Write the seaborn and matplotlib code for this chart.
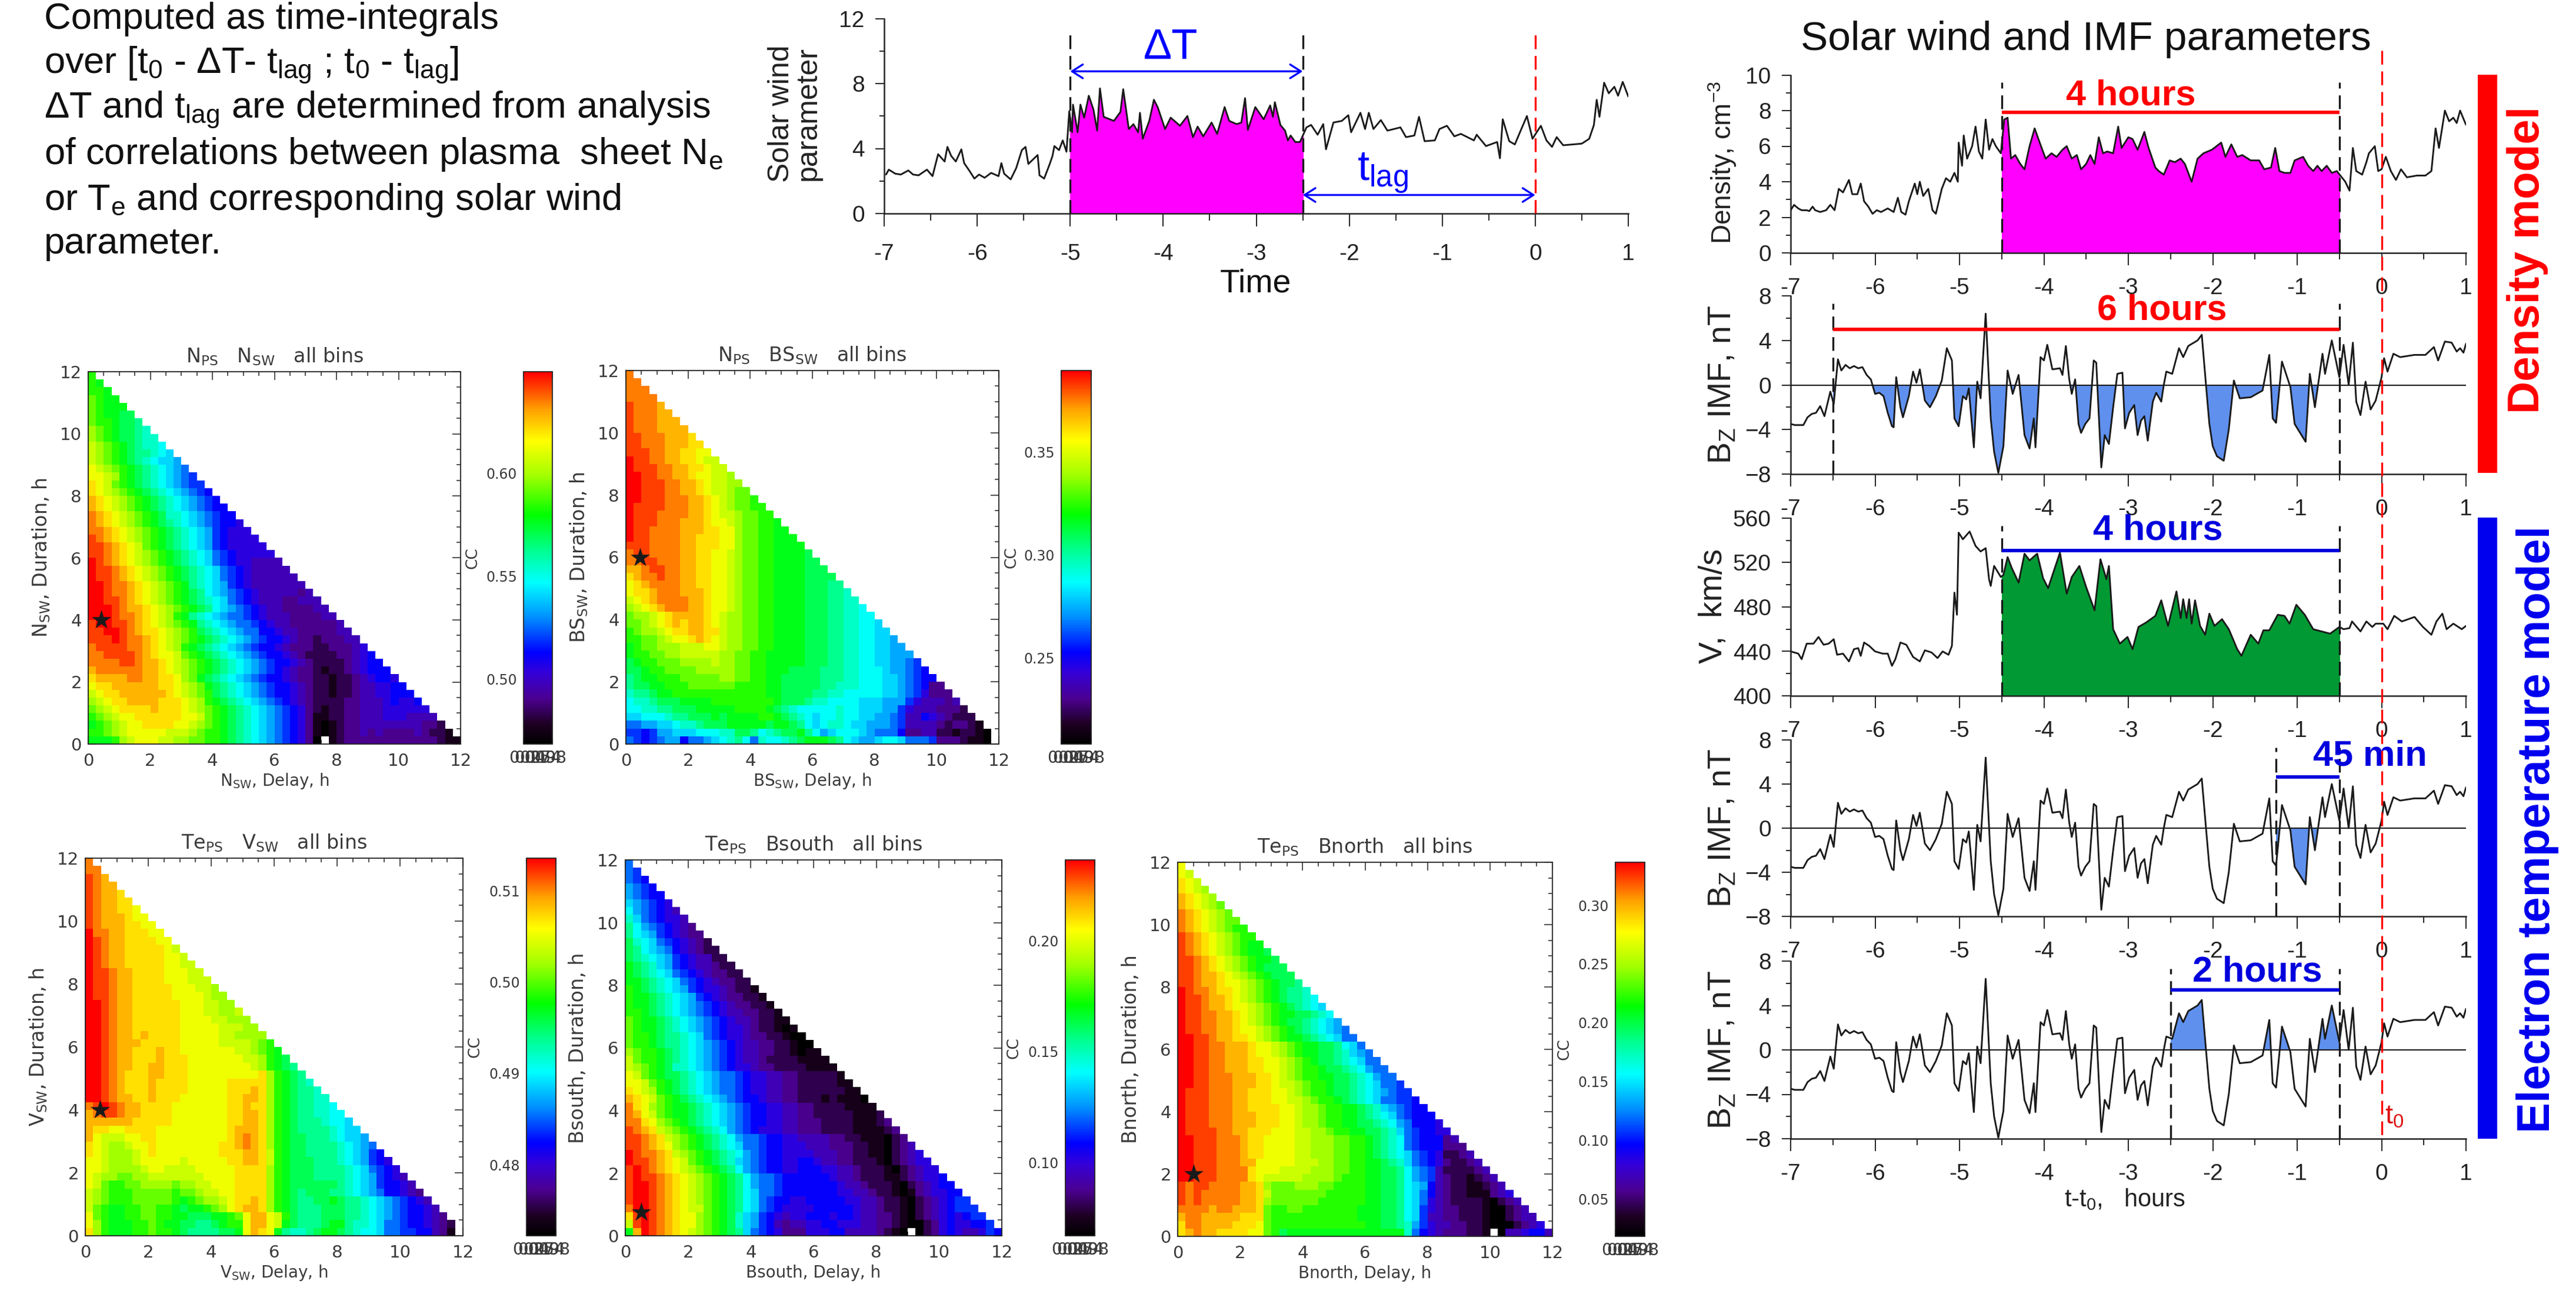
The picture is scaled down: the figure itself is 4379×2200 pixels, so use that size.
import numpy as np
import pandas as pd
import matplotlib
matplotlib.use("Agg")
import matplotlib.pyplot as plt
import seaborn as sns
from matplotlib.colors import LinearSegmentedColormap
from matplotlib.lines import Line2D
from matplotlib.patches import Rectangle
from matplotlib.ticker import MultipleLocator

W, H = 4379, 2200

# Solar wind series (hours before t0, value)
top_t = [-6.98,-6.95,-6.88,-6.82,-6.74,-6.69,-6.63,-6.54,-6.48,-6.42,-6.35,-6.32,-6.28,-6.23,-6.17,-6.14,-6.08,-6.03,-5.98,-5.92,-5.85,-5.77,-5.74,-5.71,-5.64,-5.58,-5.55,-5.52,-5.48,-5.45,-5.35,-5.33,-5.28,-5.22,-5.19,-5.17,-5.12,-5.08,-5.04,-5.01,-4.98,-4.97,-4.92,-4.89,-4.85,-4.80,-4.75,-4.71,-4.68,-4.64,-4.53,-4.46,-4.43,-4.37,-4.32,-4.27,-4.25,-4.22,-4.15,-4.10,-4.06,-3.98,-3.92,-3.82,-3.74,-3.68,-3.63,-3.57,-3.48,-3.42,-3.34,-3.29,-3.21,-3.16,-3.12,-3.09,-3.01,-2.92,-2.85,-2.82,-2.80,-2.74,-2.69,-2.66,-2.63,-2.58,-2.53,-2.46,-2.41,-2.34,-2.28,-2.25,-2.17,-2.08,-2.01,-1.98,-1.88,-1.83,-1.79,-1.74,-1.66,-1.59,-1.45,-1.39,-1.30,-1.25,-1.19,-1.08,-1.03,-0.95,-0.87,-0.80,-0.66,-0.63,-0.53,-0.41,-0.38,-0.35,-0.28,-0.22,-0.15,-0.09,-0.03,0.06,0.12,0.18,0.23,0.30,0.50,0.58,0.63,0.66,0.69,0.74,0.79,0.85,0.89,0.94,1.00]
top_v = [2.4,2.7,2.45,2.4,2.65,2.4,2.35,2.7,2.3,3.65,3.2,4.1,3.55,3.2,3.95,3.1,2.6,2.15,2.4,2.2,2.5,2.3,3.1,2.45,2.1,2.8,3.35,3.9,4.1,3.05,3.6,2.35,2.15,3.05,3.55,4.15,3.9,4.5,3.8,6.3,5.0,6.7,5.0,6.7,5.9,7.25,6.4,5.1,7.7,5.95,5.7,6.25,7.65,5.2,5.5,5.0,6.2,4.6,5.7,7.0,6.55,5.2,5.9,5.4,6.0,4.7,5.35,4.75,5.6,4.9,6.55,5.7,5.5,5.6,7.1,5.15,6.55,5.8,6.65,5.95,6.85,5.45,5.1,4.5,4.8,4.4,4.4,5.3,5.45,4.85,5.5,3.95,5.6,5.7,6.05,5.0,6.2,5.2,6.2,5.2,5.75,5.1,5.3,4.7,4.8,5.95,4.45,4.5,5.2,5.4,4.75,4.9,4.5,4.85,4.15,4.4,3.4,5.8,4.45,4.25,5.2,6.0,4.6,5.4,4.5,4.1,4.7,4.2,4.3,4.6,5.45,7.0,5.95,8.05,7.4,7.8,7.25,8.1,7.2]

dens_t = [-7.00,-6.96,-6.91,-6.87,-6.81,-6.78,-6.74,-6.71,-6.65,-6.58,-6.53,-6.48,-6.43,-6.38,-6.31,-6.27,-6.21,-6.17,-6.13,-6.08,-6.03,-5.98,-5.93,-5.85,-5.78,-5.73,-5.69,-5.64,-5.60,-5.53,-5.50,-5.47,-5.43,-5.37,-5.32,-5.28,-5.21,-5.16,-5.11,-5.06,-5.02,-5.01,-4.97,-4.95,-4.91,-4.85,-4.81,-4.77,-4.73,-4.69,-4.65,-4.61,-4.57,-4.51,-4.47,-4.43,-4.39,-4.34,-4.28,-4.23,-4.17,-4.11,-4.05,-3.98,-3.91,-3.85,-3.78,-3.73,-3.67,-3.61,-3.56,-3.50,-3.45,-3.40,-3.35,-3.30,-3.25,-3.18,-3.12,-3.08,-3.00,-2.95,-2.89,-2.81,-2.76,-2.68,-2.64,-2.58,-2.51,-2.45,-2.38,-2.33,-2.25,-2.18,-2.11,-2.01,-1.90,-1.85,-1.78,-1.71,-1.65,-1.55,-1.45,-1.39,-1.31,-1.26,-1.21,-1.15,-1.08,-1.03,-0.93,-0.87,-0.81,-0.76,-0.71,-0.65,-0.59,-0.53,-0.48,-0.43,-0.38,-0.34,-0.30,-0.23,-0.18,-0.15,-0.08,-0.04,0.00,0.05,0.11,0.17,0.23,0.30,0.42,0.52,0.59,0.64,0.68,0.75,0.80,0.85,0.89,0.93,1.00]
dens_v = [2.4,2.7,2.5,2.4,2.4,2.35,2.6,2.4,2.3,2.4,2.7,2.4,3.6,3.4,4.1,3.3,3.3,3.9,2.9,2.6,2.2,2.4,2.3,2.5,2.3,3.1,2.3,2.15,2.9,3.9,3.3,4.0,3.2,3.6,2.4,2.2,3.6,4.2,4.0,4.5,4.0,6.2,4.9,6.6,5.3,6.0,7.1,5.7,5.3,7.5,5.8,6.4,6.0,5.6,7.5,7.6,5.3,5.5,5.0,4.7,6.0,7.0,6.2,5.3,5.6,5.4,5.8,6.0,5.3,5.5,4.7,5.0,5.5,5.0,6.5,5.6,5.7,5.6,7.1,5.9,6.5,6.4,5.8,6.8,5.9,4.8,4.6,4.4,5.2,5.1,5.3,5.0,4.0,5.3,5.6,5.8,6.2,5.4,6.1,5.4,5.5,5.2,5.2,4.7,4.8,5.9,4.6,4.5,4.5,5.2,5.4,4.9,4.6,4.9,4.6,4.9,4.5,4.6,4.3,4.0,3.5,5.9,4.6,4.4,5.1,5.6,6.0,4.6,4.7,5.4,4.6,4.1,4.7,4.25,4.35,4.35,4.6,7.0,5.9,8.0,7.4,7.6,7.3,8.0,7.2]

bz_t = [-7.00,-6.95,-6.90,-6.85,-6.80,-6.75,-6.70,-6.65,-6.60,-6.53,-6.49,-6.44,-6.40,-6.35,-6.30,-6.25,-6.20,-6.15,-6.10,-6.05,-6.00,-5.95,-5.90,-5.85,-5.80,-5.78,-5.75,-5.70,-5.67,-5.60,-5.55,-5.51,-5.47,-5.41,-5.35,-5.28,-5.21,-5.15,-5.09,-5.06,-5.01,-4.96,-4.92,-4.89,-4.83,-4.79,-4.75,-4.69,-4.63,-4.59,-4.54,-4.48,-4.43,-4.37,-4.30,-4.23,-4.17,-4.12,-4.10,-4.04,-4.00,-3.96,-3.90,-3.81,-3.78,-3.74,-3.70,-3.67,-3.63,-3.59,-3.56,-3.51,-3.46,-3.41,-3.38,-3.32,-3.28,-3.23,-3.18,-3.13,-3.07,-3.04,-2.99,-2.93,-2.89,-2.85,-2.81,-2.77,-2.71,-2.67,-2.61,-2.58,-2.55,-2.48,-2.40,-2.35,-2.29,-2.18,-2.13,-2.08,-2.04,-2.00,-1.95,-1.87,-1.81,-1.75,-1.68,-1.55,-1.41,-1.33,-1.29,-1.25,-1.18,-1.08,-1.03,-0.90,-0.85,-0.79,-0.70,-0.67,-0.59,-0.50,-0.45,-0.39,-0.34,-0.30,-0.25,-0.19,-0.13,-0.07,0.00,0.03,0.07,0.14,0.22,0.39,0.52,0.62,0.67,0.75,0.83,0.89,0.93,0.97,1.00]
bz_v = [-3.5,-3.6,-3.6,-3.6,-2.9,-2.6,-2.5,-1.9,-2.8,-0.6,-1.7,2.3,1.3,1.8,1.5,1.7,1.5,1.6,0.9,0.5,-0.8,-0.7,-1.0,-2.5,-3.7,-3.8,0.7,-2.0,-2.9,-1.0,1.2,0.2,1.4,-1.4,-2.0,-1.0,0.4,3.3,2.2,-3.0,-3.7,-1.0,-1.3,-0.3,-5.6,0.3,-1.2,6.4,-3.0,-6.0,-7.9,-5.5,1.3,-0.8,0.9,-4.5,-5.7,-3.0,-5.6,2.5,2.2,3.6,1.4,1.5,0.9,3.5,0.5,-0.8,0.5,-3.5,-4.3,-3.5,-3.0,2.2,2.0,-7.4,-4.5,-5.3,-2.0,1.0,1.1,-3.9,-2.5,-1.8,-4.5,-3.2,-2.8,-5.0,-1.5,-0.7,-1.5,0.0,1.2,1.0,3.3,2.5,3.5,4.0,4.5,0.0,-3.5,-5.5,-6.4,-6.8,-4.0,0.4,-1.2,-1.1,-0.5,2.7,-3.0,-3.4,2.1,-0.2,-3.5,-5.1,1.0,-2.0,2.8,1.0,4.0,0.7,3.6,0.0,3.8,-1.5,-2.7,0.3,-2.2,-1.4,0.7,2.4,1.2,2.8,2.5,2.7,2.7,3.4,2.2,3.9,3.8,3.0,3.3,2.9,3.7]

vel_t = [-7.00,-6.91,-6.87,-6.81,-6.73,-6.67,-6.61,-6.55,-6.49,-6.45,-6.38,-6.31,-6.25,-6.20,-6.17,-6.13,-6.07,-6.00,-5.91,-5.85,-5.80,-5.76,-5.70,-5.63,-5.55,-5.47,-5.41,-5.33,-5.26,-5.20,-5.13,-5.09,-5.06,-5.03,-5.01,-4.96,-4.88,-4.81,-4.75,-4.69,-4.65,-4.63,-4.59,-4.51,-4.48,-4.43,-4.38,-4.30,-4.23,-4.17,-4.08,-4.01,-3.95,-3.81,-3.73,-3.67,-3.58,-3.50,-3.40,-3.33,-3.26,-3.23,-3.18,-3.10,-3.01,-2.95,-2.88,-2.79,-2.68,-2.61,-2.53,-2.43,-2.38,-2.35,-2.31,-2.28,-2.25,-2.21,-2.15,-2.09,-2.04,-1.98,-1.89,-1.81,-1.71,-1.66,-1.55,-1.46,-1.40,-1.33,-1.23,-1.15,-1.09,-1.01,-0.91,-0.81,-0.71,-0.61,-0.50,-0.45,-0.38,-0.35,-0.25,-0.18,-0.11,-0.07,0.02,0.07,0.15,0.24,0.39,0.49,0.59,0.65,0.72,0.77,0.85,0.95,1.00]
vel_v = [440,438,433,447,447,453,446,447,451,437,438,431,442,443,436,448,445,440,438,438,427,433,448,446,435,431,441,439,434,440,437,445,493,473,547,541,548,535,530,533,505,499,517,507,509,525,515,502,528,522,528,506,497,529,492,507,517,498,477,523,505,517,460,447,453,442,462,466,472,486,463,494,470,487,470,487,465,486,463,455,474,463,469,460,442,436,455,447,459,459,473,472,465,482,473,460,458,456,462,460,461,467,458,467,462,465,465,460,472,467,471,462,455,467,474,460,465,460,463]

# Correlation maps: one letter per 15 min cell, a = lowest of the colour bar, z = highest, . = no data
# Rows run from duration 11.75 h down to 0 h, groups of four cells are one hour of delay
levels = "abcdefghijklmnopqrstuvwxyz"
nsw_rows = ["q","qp","qqp","rqpp","rqpp p","rqpp oo","rqqp oon","srqp oonm","srqp oonm m","tsrq ponm ml","tsrq ponn mlk","tsrq ponm lkkj",
    "utsr qpon mlkj i","uuts qpon mlkj ih","vutr qpon mlkj ihh","vuts rqpo nmlk jihg","wvut srqp onml kjih g","wvut srqp onml kjih gg",
    "xwvu tsrq pomm lkji hgg","xwvu tsrq ponm lkji hggf","xxwv utsr qpon mlkj hgff f","yxwv utsr qpon mlkj hgff ff","yyxw vutr qpon mlkj hgff fff",
    "yyxw vuts rqpo nmlk ihgf ffff","zyxw vuts rqpo nmlk ihgf feee e","zyyx wvut srqp onml kihg feee ee","zyyx wvut srqp onml kihg feee eee",
    "zzyx xwvu tsrq pnml kjhg feee eeee","zzyx xwvu tsrq ponl kjih gfee eeed e","zzyy xwvu tsrq ponm lkih gfee edde ee","zzzy xwwv utsr qpon lkji hgfe eddd dee",
    "zzzy xxwv utsq pnml kjii hgfe eedd ddee","yzzy yxwv utsr qpnm lkji ihgf eedd dddd e","yyzz yxwv vuts rqon mlkj iigg feed dddd ee",
    "yyyz yxxw vuts rqpo nmlk jihg gfed dcdd dee","xyyy yxxw vuts qpon mlkj ihgg fedd dccd ddef","xxyy yyxw vuut rqpo nmlk jihg gfed cccc ddef g",
    "xxxx yyxw wvut srqp onml kjih ggfe dccc cdef gg","wxxx xxxw wvut srqp onml kjih gfed dcbc cdef ggg","vwww wxxw wvvu srpo nmlk jihg gfed dccb ccde fggf",
    "uvvw wwww wvvu tsrp onml kjih ggfe dccb ccde effg g","tuvv wwww wwvu tsrq onml kjih ggfe dccb ccde effg gg","stuv vwww wvvv utsq ponm lkji hgfe dccc cdde eefg ffg",
    "rstu vvvv wvvv utsr qpon mlkj ihgf dcbc cdde eeff ffff","qrst uuvv vvvv uutr qpon mlkj ihgf dbbc cdde eeff feee e","pqrs tuuv vvvu utsr qpon mlkj ihgf dbab cdde eeee eeed dc",
    "qqrs tuuu uutt tsrq qpon mlkj ihgf dbab cdde dedd dded ccb","pppq stuu utts srrq qpon mlkj ihgf da.b cddd dddd dddd dcbb"]
bsw_rows = ["x","xx","xxx","xxxx","yxxx w","yxxx ww","yxxx www","yxxx wwww","yyxx xwww v","yyxx xwww vv","yyyx xwwv vuu","zyyx xwwv vutt",
    "zyyy xxww vvut t","zzyy xxww vuut ts","zzyy yxxw wvut tss","zzyy yxxw wvut tsrr","zzyy yxxx wwvu tsrr q","zyyy yxxx wwvu tsrr qq",
    "zyyy xxxx wwvu ttsr rqq","zyyy xxxw wwvu utsr rqqp","zyyx xxxw wwvv uusr rqqp p","zyyx xxxw wvvv uusr rqqp pp","yyyx xxxw wvvv uusr rqqp ppp",
    "xyyx xxxw wvvu utsr rqqp pppo","xxyy xxxw wvvu utsr rqqp pppo o","wwxy yxxw wvvu utsr rqqp pppo oo","vwxx yxxw wvvu utsr rqqp pppo ooo",
    "uvwx xxxw wvvu utsr rqqp pppo oonn","uvvw xxxw wwvu utsr rqqp pppo oonn m","tuvw xxxx wwvu utsr rqqp pppo oonn mm","stuv wxxx wwvu utsr rqqp pppo oonn mml",
    "rsst uvww wwvu tssr rqqp pppo oonn mmll","rrst uvwv wwvu tssr rqqp pppo oonn mmll k","qrss tuvv wwvv tssr rqqp pppo oonn mmll kk",
    "qqrr stuu vwvu tssr rqqp pppo oonn mmll kkj","pqrr ssst ttuu tssr rqqp pppo oonn mmll kkjj","pqqr rsst tttt ssrr qqpp pppo oonn mmll kkjj j",
    "opqq rrrs ssst ssrr qqpp pppo oonn mmll kkjj ih","oopq qrrr rsss ssrr qqpp pooo onnn mmll lkjj ihg","nopp qqqr rrrr ssrr qqpp oooo onnn mmll lkkj ihgg",
    "noop pqqq rrrr rrqq qqpp oooo onnm mmll lkkj ihgd d","mnno ppqq qqqq qqqq qqpp oooo nnmm llll lkkj ihfd dd","lmmn ooop pppq qqqq qqqp ooon mmll llkk kjjj hfee ede",
    "llmm nnoo oppp ppqq qqpo nmll lllm llkk kjjh feee dddc","kkll lmnn ooop oppp pqqp onml kllm llkk jjih eegf edcc c","iijj kklm mnoo oppp ppop ponl klmm lkkj jjih eeee dcdd cb",
    "hhgh jjkk klll mmoo nlmn oopn ljkl llkj iiig ddee ccbc cba","ihgh ijjg iijk lmnl imll mnop ppon lkjj kllk iiih dddc bba"]
vsw_rows = ["x","xx","yxw","yxww","yxww v","yxww vv","yxww vvu","yxww wvuu","yxww wvvu u","zxxw wvvv uu","zyxw wvvv vuu","zyxw wvvv vvut",
    "zyxw wvvv vvuu t","zyxw wvvv vvuu tt","zyyx wwvv vvuu utt","zyyx wwvv vvuu uttt","zyyx wwvv vvvu uutt s","zyyx wwvv vvvu uuut ss",
    "zzyx wwvv vvvv uuut tss","zzyx wwvv vvvv uuut tsst","zzyx wwvv vvvv uuuu ttss s","zzyx wwvv vvvv uuuu uttt ss","zzyx wwvw vvvv uuuu utts sss",
    "zzyx wwwv vvvv uuuu uttt tsrq","zzyx wwvv vwvv uuuu uuut tsrq p","zzyx wwvv vwvv vuuu uuuu ttsq po","zzyx wwvv wwvv vuuu uuuu utsq pon",
    "zzyx wvvv wwvv vuuu uuuu uuvs qpon","zzyx wvvv wvvv vuuu uuvv vvvs qpon m","zzyx wvvv wvvv vuuu uuvv vwvs qpon nm","zzyx wwvv wvvv uuuu uuvv wwvs qpon nmm",
    "xyzy xwwv vvvu uuuu uuvv wvvs qpon nmml","wxyy xwwv vvvu uuuu uuvv wwvs qpon nmml l","wwww wwvv vvvu uuuu uuvv wwvs qpon nnml lk",
    "wvvu uvvv vuuu uuuu uuvw wwvs qpon nnnm lkk","wutt tuuv vuuu uuuu uuvw xwvs qpoo nnnm lkkj","vuts stuu vuuu uuuu uvvw xwvs qpoo nnnn mlkj i",
    "vuts sstu vuuu uuuu uvvv wwvt qpoo nnnn mlkj hg","uuts sstu uuuu tuuu uuvv wwvt qpoo onnn mlkj hgf","uuts ssst uutt ttuu uuuv vvvs qpoo onnn nmlk ihgf",
    "utss rrss tttt tttu uuuv vvvs qpoo onnn nmlk jhgf e","utrq qrrs sssr sstt uuuv vvvs qpoo oooo nmlk jhgg fe","tsrq qqrr rrrq rrst tuuv vvvs qpon ooon nmlk jigg fed",
    "tsrq qqrr rrrq pqrs stuv vwvs qpon noop onnm lkji hgfe","trqp pqqr rqqp oppq rsuv wwvs qpon nnoo onnm lkji hggf e","urqp pqqr rqqp pooo ppqr uwwu tqon nnoo onnm lkji hggf ed",
    "usqp ppqq rqpp oonn opqq uwwu tpon nnop pnmm lkii hggf edc","vsqp ppqq rqqp onnn noop uwvu pnmm nopp onml lkii hhgg edb"]
bso_rows = ["i","ih","ihg","jihg","jihg g","kjih gf","ljih gfe","mkih gffe","nlji hgfe d","nlkj hgfe dd","omlk ihgf edc","onlk jigf edcc",
    "onml kjhg feec c","ponm kjhg feed cc","ponm lkih gfed dcc","ppon mlki hgfe ddcc","qpon mlkj hgff edcc b","qppo nmlk jhgf eddc cb",
    "qppo nmlk jihg fedd ccb","qqpo nmlk jihg feed dccb","rqpp onml kjih gfee dccb b","rqpp onml kjih gffe dccb ab","rqqp onnm lkih gffe ddcc baa",
    "rqqp onnm lkji hgfe eddc cbaa","srqq ponm lkji hgfe eddc cbab b","trqq ponm lkji hgfe edcc ccbb bb","tsrq pomm lkji hgff eddc cccb bbb",
    "utrq poon mlkj iihg ffee ddcc cccb","uutr qpon mlkj iihg ffee ddcc cccb b","vuts qpon mlkj iihg ffee ddcc cccc bb","wvut rqpo nmlk jihg gfee ddcc cbcb bba",
    "xvus rqpp onml kjih ggff eedd cccc bbbb","xwut rqpp onml kjih ggff eedd cccc cbbb c","xxvu srqp onml kjih ggff eedd dccc cbbb cd",
    "yxwv tsrq ponm ljih gfff eedd dccc cbbb bcd","yyxw vtsr qpon mlji ihgg ffee eedd ccbb bacd","yyxw vusr qpon mlki ihgg fffe eedd dccb bacd e",
    "zyxx wvts rqpo nmlj ihgg ffff eeed dccb bacd ef","zyyx wvut rqpo nmkj ihgg ffgg feed dccc bacd eff","yzyx wvut srqp onlj ihgg ffgg gffe edcc cbac deff",
    "yzyy xwvu tsrq ponl jiih gggg ggfe edcc cbbc deff g","yzzy xwvu tsrq ponl jiih gggg gggf eedc ccba cdef gg","yzzy xwvu tsrq ponl kiih gggg gggf feed ccba bdef fgg",
    "yzzy xwvu tsrq ponl kihg gffg gggg ffee dccb acde fghh","xzzy xwvu ttrq ponl kihg ffff gggg gfee dccb acde fghh h","vyzy xwvu usrq pomk jhgf effg ggfg gfee ddcb acde fgfg hh",
    "tyzy xwvu usrq pomk jhge deef fggf ffee ddcb aacd fgff ggh","pwzy xwvu tsrq ponk ihgf dddf ffgg eeee dcba .acd fgfe efhg"]
bno_rows = ["u","ut","vut","vuts","wvut s","wvut sr","xwvu tsr","xwvu tsrr","xwvu tsrq q","yxwv utsr qq","yxwv utsr qpp","yxwv utsr qppo",
    "yyxw vuts rqpp o","yyxw vuts rqpo oo","yyxw wvut srqp ooo","yyxw wvuu tsrq poon","zyxx wvvu tsrq ponn m","zyyx wwvu tsrq ponn ml",
    "zyyx wwvu utsr qpon mlk","zyyx xwwv utsr qppo onml","zyyx xwwv utsr qpoo nmlk j","zyyx xwwv uuts rqpo nmlk ji","zzyy xwwv vuts rqpp onml kii",
    "zzyy xxww wvuu tsrq ppoo nlki","zzyy xxww wvuu tsrq ppoo nmkj i","zzyy xxww wvvu utsr qpoo nmlk ii","zzyy xxww wvvu utsr qqpo onml jii",
    "zzyy xxxw wwvv utsr qqpp oonm ljii","zzyy xxxw wwvv utts rqqp oonm lkii h","zyyy xxxw wvvv uuts rqqp oonm lkji hh","zyyy xxxw wvvv uutt srqq ponm lkii hhg",
    "zyyy xxxw wvvv vuut ssrq qppo nmkj ihgg","zyyy xxxw wwvv vuut ssrq qppo nmlk ihgg g","zyyy xxxw wwvv vuut ssrq qppo onml jigg gf",
    "zyyy yxxw wvvv uuut tssr qqpp oonm kihg gff","zzyy yxxx wvvu uuut tsss rrqq ponm lihg ggde","zzyy yxxx wvvu uuut tsss rrqq ponm lihg ggdd d",
    "zzyy yxxx wvvu uuut tsss rrqq ponm lkih gfcc de","zzyy yxxx wwuu uuut ttss rrqq ppon mkih gfdc cde","zzyy yxxx xvuu uttt tsss rrqq ppoo nlji hecc ccde",
    "zzyy yxxx xvut tttt ssss rqqq ppoo nlji hedc cbcd e","yxyy xxxx wwvs rrrs ssrr qqqq ppoo nlkj gedc cbbc de","yxyx xxxx wwvt rrrr rrrq qqqq ppoo nlki gedc cbbb def",
    "yxyx xxxx wwvs rrrr rrqq qqqq ppoo nlki fedc cccb acde","xxxx wxxw wwvr qqrr qqqq qqqp ppoo nlkh fedd cccb aacd e","wxxw wwww vvvr qqqq qqqq qqqp ppoo nlkh eedd cccb aacd ee",
    "vxxw wwwv vvur qqqq qqqq qqqq ppoo nmjh feed dccb aaac def","vwxw wvvv vuur qopp pppp pppp pppp pmig fedd dccb .aee fgge"]

cc_limits = [(0.4683, 0.6494), (0.208, 0.3895), (0.4722, 0.5136), (0.067, 0.2364), (0.018, 0.3366)]
cc_ticks = [[0.50, 0.55, 0.60], [0.25, 0.30, 0.35], [0.48, 0.49, 0.50, 0.51], [0.10, 0.15, 0.20], [0.05, 0.10, 0.15, 0.20, 0.25, 0.30]]
stars = [(0.42, 4.0), (0.45, 6.0), (0.47, 4.0), (0.5, 0.75), (0.5, 2.0)]
hour_ticks = [0, 2, 4, 6, 8, 10, 12]
cbar_junk = ["0.00", "0.25", "0.49", "0.74", "0.98"]

sns.set_theme(style="white")
plt.rcParams["font.family"] = ["Liberation Sans", "DejaVu Sans"]
plt.rcParams["mathtext.default"] = "regular"

rainbow = LinearSegmentedColormap.from_list("idl_rainbow", [
    (0, "#000000"), (0.05, "#1c0020"), (0.12, "#4b0090"), (0.19, "#3400d8"), (0.245, "#0000ff"),
    (0.34, "#0090ff"), (0.434, "#00ffff"), (0.52, "#00ff90"), (0.616, "#00ff00"), (0.72, "#a0ff00"),
    (0.815, "#ffff00"), (0.9, "#ffa000"), (1, "#ff0000")], N=256)

fig = plt.figure(figsize=(W / 100, H / 100), dpi=100, facecolor="white")


def box(l, r, t, b):
    return [l / W, 1 - b / H, (r - l) / W, (b - t) / H]


def ptext(x, y, s, **kw):
    kw.setdefault("ha", "center")
    kw.setdefault("va", "center")
    return fig.text(x / W, 1 - y / H, s, **kw)


def rows_to_table(rows, lim):
    table = np.full((48, 48), np.nan)
    for i, row in enumerate(rows):
        for j, ch in enumerate(row.replace(" ", "")):
            if ch != ".":
                table[i, j] = lim[0] + levels.index(ch) / 25 * (lim[1] - lim[0])
    return pd.DataFrame(table)


def cc_map(rows, k, ax_px, cb_px, name, title):
    l, r, t, b = ax_px
    ax = fig.add_axes(box(l, r, t, b))
    cax = fig.add_axes(box(cb_px[0], cb_px[1], t, b))
    df = rows_to_table(rows, cc_limits[k])
    sns.heatmap(df, ax=ax, cbar_ax=cax, cmap=rainbow, vmin=cc_limits[k][0], vmax=cc_limits[k][1], mask=df.isna(),
                xticklabels=False, yticklabels=False, cbar_kws={"ticks": cc_ticks[k], "format": "%.2f"})
    thin = dict(family="DejaVu Sans", color="#3a3a3a")
    ax.set_xticks([h * 4 for h in hour_ticks])
    ax.set_xticklabels(hour_ticks, fontsize=21, **thin)
    ax.set_yticks([(12 - h) * 4 for h in hour_ticks])
    ax.set_yticklabels(hour_ticks, fontsize=21, rotation=0, **thin)
    ax.xaxis.set_minor_locator(MultipleLocator(2))
    ax.yaxis.set_minor_locator(MultipleLocator(2))
    ax.tick_params(which="major", direction="in", length=10, width=1.1, color="#222222", top=True, right=True, bottom=True, left=True)
    ax.tick_params(which="minor", direction="in", length=5, width=1.1, color="#222222", top=True, right=True, bottom=True, left=True)
    ax.tick_params(axis="x", which="major", pad=11)
    ax.tick_params(axis="y", which="major", pad=8)
    for sp in ax.spines.values():
        sp.set_visible(True)
        sp.set_linewidth(1.3)
        sp.set_color("#222222")
    ax.scatter([stars[k][0] * 4], [(12 - stars[k][1]) * 4], marker="*", s=620, color="k", zorder=5, linewidths=0)
    mid = (l + r) / 2
    ptext(mid, t - 26, title, fontsize=24, **thin)
    ptext(mid, b + 63, name + ", Delay, h", fontsize=20, **thin)
    ptext(l - 80, (t + b) / 2, name + ", Duration, h", fontsize=24, rotation=90, **thin)
    ptext(r + 21, (t + b) / 2, "CC", fontsize=19, rotation=90, **thin)
    # colour bar in the style of the original plot
    cb = ax.collections[0].colorbar
    cb.outline.set_linewidth(1.3)
    cb.outline.set_edgecolor("#222222")
    cax.yaxis.set_ticks_position("both")
    cax.tick_params(axis="y", direction="in", length=3, width=1, labelleft=True, labelright=False, labelsize=17, pad=8, labelcolor="#3a3a3a")
    for lab in cax.get_yticklabels():
        lab.set_family("DejaVu Sans")
    cax.set_xticks(np.arange(0, 1.01, 0.1))
    cax.tick_params(axis="x", direction="in", length=7, width=1.3, top=True, bottom=True, labelbottom=False, color="k")
    cmid = (cb_px[0] + cb_px[1]) / 2
    for off, lab in zip([-18, -9, 0, 9, 18], cbar_junk):
        ptext(cmid + off, b + 24, lab, fontsize=20, **thin)
    return ax


cc_map(nsw_rows, 0, (150, 783, 632, 1265), (890, 939), r"N$_{SW}$", r"N$_{PS}$   N$_{SW}$   all bins")
cc_map(bsw_rows, 1, (1064, 1698, 630, 1265), (1804, 1855), r"BS$_{SW}$", r"N$_{PS}$   BS$_{SW}$   all bins")
cc_map(vsw_rows, 2, (145, 787, 1459, 2101), (895, 945), r"V$_{SW}$", r"Te$_{PS}$   V$_{SW}$   all bins")
cc_map(bso_rows, 3, (1063, 1703, 1462, 2101), (1811, 1861), "Bsouth", r"Te$_{PS}$   Bsouth   all bins")
cc_map(bno_rows, 4, (2002, 2639, 1466, 2102), (2746, 2796), "Bnorth", r"Te$_{PS}$   Bnorth   all bins")

# Text block, top left
intro = ["Computed as time-integrals",
         r"over [t$_0$ - ΔT- t$_{lag}$ ; t$_0$ - t$_{lag}$]",
         r"ΔT and t$_{lag}$ are determined from analysis",
         r"of correlations between plasma  sheet N$_e$",
         r"or T$_e$ and corresponding solar wind",
         "parameter."]
for y, line in zip([33, 111, 187, 262, 340, 415], intro):
    ptext(75, y, line, ha="left", fontsize=45.5, color="#111111")


def series_axes(px, ylim, maj, mnr, ticklen=15, labelpad=15):
    ax = fig.add_axes(box(*px))
    ax.set_xlim(-7, 1)
    ax.set_ylim(*ylim)
    ax.patch.set_alpha(0)
    ax.set_xticks(range(-7, 2))
    ax.xaxis.set_minor_locator(MultipleLocator(0.5))
    ax.yaxis.set_major_locator(MultipleLocator(maj))
    ax.yaxis.set_minor_locator(MultipleLocator(mnr))
    ax.tick_params(axis="x", which="major", length=ticklen, width=1.4, labelsize=28, pad=labelpad, bottom=True, color="#222222", labelcolor="#222222")
    ax.tick_params(axis="x", which="minor", length=ticklen * 0.55, width=1.4, bottom=True, color="#222222")
    ax.tick_params(axis="y", which="major", length=11, width=1.4, labelsize=28, pad=13, left=True, color="#222222", labelcolor="#222222")
    ax.tick_params(axis="y", which="minor", length=6, width=1.4, left=True, color="#222222")
    ax.set_xticklabels([str(v) for v in range(-7, 2)])
    sns.despine(ax=ax)
    for sp in ("left", "bottom"):
        ax.spines[sp].set_linewidth(1.8)
        ax.spines[sp].set_color("#222222")
    return ax


def draw_line(ax, t, v):
    sns.lineplot(x=t, y=v, ax=ax, color="k", lw=2.1, estimator=None, sort=False, zorder=3)
    ax.set_xlabel("")
    ax.set_ylabel("")


def fill_window(ax, t, v, a, b, base, color, where=None):
    t = np.array(t)
    v = np.array(v)
    poly = ax.fill_between(t, v, base, where=where(v) if where else None, interpolate=True, color=color, lw=0, zorder=2)
    poly.set_clip_path(Rectangle((a, ax.get_ylim()[0]), b - a, ax.get_ylim()[1] - ax.get_ylim()[0], transform=ax.transData))


def dashes(ax, xs, top, color="k"):
    for x in xs:
        ax.plot([x, x], [ax.get_ylim()[0], top], color=color, lw=2.4, ls=(0, (7, 3.5)), zorder=4)


def marker_bar(ax, a, b, y, label, lx, ly, color):
    ax.plot([a, b], [y, y], color=color, lw=4.2, solid_capstyle="butt", zorder=5, clip_on=False)
    ax.text(lx, ly, label, color=color, fontsize=44, fontweight="bold", ha="center", va="center", zorder=6, clip_on=False)


# Top schematic panel
ax = series_axes((1503, 2768, 31.5, 363), (0, 12), 4, 2, ticklen=16, labelpad=21)
fill_window(ax, top_t, top_v, -5, -2.5, 0, "#ff00ff")
draw_line(ax, top_t, top_v)
dashes(ax, [-5, -2.5], 11.4)
dashes(ax, [0], 11.4, "#ff0000")
ax.annotate("", xy=(-5, 8.75), xytext=(-2.5, 8.75), arrowprops=dict(arrowstyle="<->,head_length=1.1,head_width=0.7", color="#0000ff", lw=2.4, shrinkA=0, shrinkB=0))
ax.annotate("", xy=(-2.5, 1.14), xytext=(0, 1.14), arrowprops=dict(arrowstyle="<->,head_length=1.1,head_width=0.7", color="#0000ff", lw=2.4, shrinkA=0, shrinkB=0))
ax.text(-3.92, 10.2, "ΔT", color="#0000ff", fontsize=52, ha="center", va="center")
ax.text(-1.64, 2.5, r"t$_{lag}$", color="#0000ff", fontsize=52, ha="center", va="center")
ptext(1351, 193, "Solar wind\nparameter", rotation=90, fontsize=36, color="#222222", linespacing=1.0)
ptext(2134, 483, "Time", fontsize=40, color="#111111")

# Right hand stack
ptext(3546, 67, "Solar wind and IMF parameters", fontsize=50, color="#111111")

ax = series_axes((3044, 4192, 127.5, 430), (0, 10), 2, 1)
fill_window(ax, dens_t, dens_v, -4.5, -0.5, 0, "#ff00ff")
draw_line(ax, dens_t, dens_v)
dashes(ax, [-4.5, -0.5], 9.6)
marker_bar(ax, -4.5, -0.5, 7.9, "4 hours", -2.97, 8.84, "#ff0000")
ptext(2928, 276, r"Density, cm$^{-3}$", rotation=90, fontsize=33, color="#222222")

ax = series_axes((3044, 4192, 503, 806), (-8, 8), 4, 2)
fill_window(ax, bz_t, bz_v, -6.5, -0.5, 0, "#5f90ee", where=lambda v: v < 0)
draw_line(ax, bz_t, bz_v)
ax.axhline(0, color="k", lw=1.5, zorder=3)
dashes(ax, [-6.5, -0.5], 7.3)
marker_bar(ax, -6.5, -0.5, 5.0, "6 hours", -2.6, 6.7, "#ff0000")
ptext(2928, 654, r"B$_Z$ IMF, nT", rotation=90, fontsize=40, color="#222222")

ax = series_axes((3044, 4192, 881, 1183), (400, 560), 40, 20)
fill_window(ax, vel_t, vel_v, -4.5, -0.5, 400, "#009933")
draw_line(ax, vel_t, vel_v)
dashes(ax, [-4.5, -0.5], 553)
marker_bar(ax, -4.5, -0.5, 531, "4 hours", -2.65, 549, "#0000dd")
ptext(2913, 1030, "V,  km/s", rotation=90, fontsize=40, color="#222222")

ax = series_axes((3044, 4192, 1258, 1558), (-8, 8), 4, 2)
fill_window(ax, bz_t, bz_v, -1.25, -0.5, 0, "#5f90ee", where=lambda v: v < 0)
draw_line(ax, bz_t, bz_v)
ax.axhline(0, color="k", lw=1.5, zorder=3)
dashes(ax, [-1.25, -0.5], 7.3)
marker_bar(ax, -1.25, -0.5, 4.64, "45 min", -0.14, 6.5, "#0000dd")
ptext(2928, 1408, r"B$_Z$ IMF, nT", rotation=90, fontsize=40, color="#222222")

ax = series_axes((3044, 4192, 1634, 1936), (-8, 8), 4, 2)
fill_window(ax, bz_t, bz_v, -2.5, -0.5, 0, "#5f90ee", where=lambda v: v > 0)
draw_line(ax, bz_t, bz_v)
ax.axhline(0, color="k", lw=1.5, zorder=3)
dashes(ax, [-2.5, -0.5], 7.3)
marker_bar(ax, -2.5, -0.5, 5.4, "2 hours", -1.47, 7.0, "#0000dd")
ax.text(0.04, -6.0, r"t$_0$", color="#dd1111", fontsize=34, ha="left", va="center", zorder=6)
ptext(2928, 1785, r"B$_Z$ IMF, nT", rotation=90, fontsize=40, color="#222222")
ptext(3612, 2039, r"t-t$_0$,   hours", fontsize=30, color="#222222")

# t0 line runs through the whole stack
fig.add_artist(Line2D([4048.5 / W, 4048.5 / W], [1 - 86 / H, 1 - 1936 / H], color="#ff0000", lw=2.4, ls=(0, (7, 3.5)), zorder=10))

# Model bars
fig.add_artist(Rectangle((4212 / W, 1 - 804 / H), 33 / W, 677 / H, transform=fig.transFigure, color="#ff0000", lw=0))
fig.add_artist(Rectangle((4212 / W, 1 - 1936 / H), 33 / W, 1056 / H, transform=fig.transFigure, color="#0000ee", lw=0))
ptext(4297, 442, "Density model", rotation=90, color="#ff0000", fontsize=55, fontweight="bold")
ptext(4314, 1410, "Electron temperature model", rotation=90, color="#0000ee", fontsize=56, fontweight="bold")

fig.savefig("out.png", dpi=100, facecolor="white")
